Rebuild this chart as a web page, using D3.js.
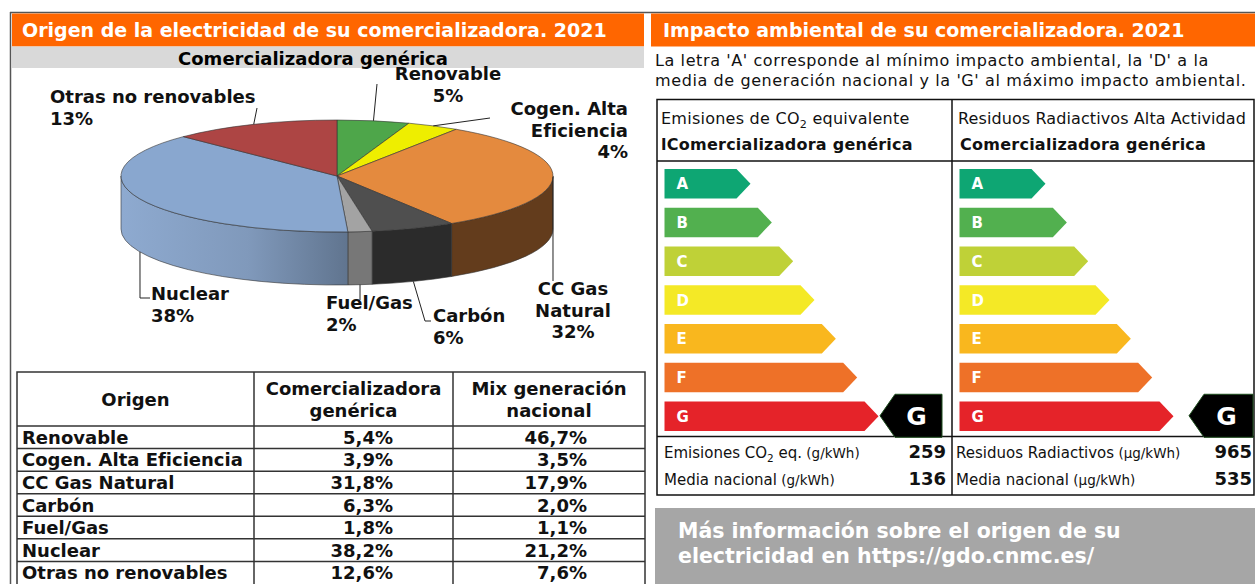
<!DOCTYPE html>
<html lang="es">
<head>
<meta charset="UTF-8">
<title>Origen de la electricidad</title>
<script src="https://d3js.org/d3.v7.min.js"></script>
<style>
  body { margin: 0; background: #fff; }
  svg text { font-family: "DejaVu Sans", Verdana, sans-serif; }
</style>
</head>
<body>
<script>
// ---- datos ----
const origins = ["Renovable", "Cogen. Alta Eficiencia", "CC Gas Natural", "Carbón", "Fuel/Gas", "Nuclear", "Otras no renovables"];
const pieNames = [["Renovable"], ["Cogen. Alta", "Eficiencia"], ["CC Gas", "Natural"], ["Carbón"], ["Fuel/Gas"], ["Nuclear"], ["Otras no renovables"]];
const shareCompany = [5.4, 3.9, 31.8, 6.3, 1.8, 38.2, 12.6];
const shareNational = [46.7, 3.5, 17.9, 2.0, 1.1, 21.2, 7.6];

const ratingLetters = ["A", "B", "C", "D", "E", "F", "G"];
const co2Rating = "G", co2Value = 259, co2National = 136;
const radRating = "G", radValue = 965, radNational = 535;

// ---- estilos ----
const topColors = ["#4ea64a", "#eeee00", "#e48a3e", "#4f4f4f", "#a3a3a3", "#89a7cf", "#ad4544"];
const sideColors = ["#3a7a37", "#b0b000", "#633c1c", "#2b2b2b", "#777777", "url(#nucSide)", "#7c3131"];
const ratingColors = ["#0ea673", "#52b04f", "#bfd137", "#f4e926", "#f9b71e", "#ee7128", "#e52329"];
const orange = "#ff6600";

const W = 1255, H = 584;
const svg = d3.select("body").append("svg").attr("width", W).attr("height", H);

// ---- marcos ----
svg.append("line").attr("x1", 10).attr("x2", W).attr("y1", 12.5).attr("y2", 12.5).attr("stroke", "#555").attr("stroke-width", 1.5);
svg.append("line").attr("x1", 10.5).attr("x2", 10.5).attr("y1", 12).attr("y2", H).attr("stroke", "#555").attr("stroke-width", 1.5);

svg.append("rect").attr("x", 12).attr("y", 13.5).attr("width", 632).attr("height", 33).attr("fill", orange);
svg.append("rect").attr("x", 651).attr("y", 13.5).attr("width", W - 651).attr("height", 33).attr("fill", orange);
svg.append("rect").attr("x", 12).attr("y", 46.5).attr("width", 632).attr("height", 21.5).attr("fill", "#d9d9d9");

svg.append("text").attr("x", 22).attr("y", 37).attr("fill", "#fff").attr("font-weight", "bold").attr("font-size", 19)
  .text("Origen de la electricidad de su comercializadora. 2021");
svg.append("text").attr("x", 663).attr("y", 37).attr("fill", "#fff").attr("font-weight", "bold").attr("font-size", 19)
  .text("Impacto ambiental de su comercializadora. 2021");
svg.append("text").attr("x", 313).attr("y", 65).attr("text-anchor", "middle").attr("font-weight", "bold").attr("font-size", 18)
  .text("Comercializadora genérica");

// ---- tarta 3D ----
const cx = 337, cy = 176, rx = 216, ry = 56, depth = 53;
const pt = (a, dy = 0) => [cx + rx * Math.sin(a), cy - ry * Math.cos(a) + dy];
const arcs = d3.pie().sort(null).value(d => d)(shareCompany);

const defs = svg.append("defs");
const gNuc = defs.append("linearGradient").attr("id", "nucSide").attr("gradientUnits", "userSpaceOnUse")
  .attr("x1", cx - rx).attr("x2", cx + 15).attr("y1", 0).attr("y2", 0);
gNuc.append("stop").attr("offset", 0).attr("stop-color", "#8eaad0");
gNuc.append("stop").attr("offset", 0.55).attr("stop-color", "#8099bb");
gNuc.append("stop").attr("offset", 1).attr("stop-color", "#5f738d");

const pie = svg.append("g");
// lados visibles (mitad delantera)
arcs.forEach((d, i) => {
  const b0 = Math.max(d.startAngle, Math.PI / 2), b1 = Math.min(d.endAngle, 3 * Math.PI / 2);
  if (b1 <= b0) return;
  const p0 = pt(b0), p1 = pt(b1), q1 = pt(b1, depth), q0 = pt(b0, depth);
  pie.append("path")
    .attr("d", `M${p0}A${rx},${ry} 0 0 1 ${p1}L${q1}A${rx},${ry} 0 0 0 ${q0}Z`)
    .attr("fill", sideColors[i]).attr("stroke", "#333").attr("stroke-width", 0.6);
});
// caras superiores
arcs.forEach((d, i) => {
  const p0 = pt(d.startAngle), p1 = pt(d.endAngle);
  const large = d.endAngle - d.startAngle > Math.PI ? 1 : 0;
  pie.append("path")
    .attr("d", `M${cx},${cy}L${p0}A${rx},${ry} 0 ${large} 1 ${p1}Z`)
    .attr("fill", topColors[i]).attr("stroke", "#333").attr("stroke-width", 0.6);
});

// etiquetas de la tarta
const pieLabelPos = [
  { x: 448, y: 80, anchor: "middle", leader: [[377, 84]] },
  { x: 628, y: 115, anchor: "end", leader: [[490, 118]] },
  { x: 573, y: 295, anchor: "middle", leader: [[553, 281]] },
  { x: 433, y: 322, anchor: "start", side: true, leader: [[425, 321], [431, 321]] },
  { x: 326, y: 309, anchor: "start", side: true, leader: [[360, 300]] },
  { x: 151, y: 300, anchor: "start", side: true, at: 245.8, leader: [[140, 298], [150, 298]] },
  { x: 50, y: 103, anchor: "start", leader: [[257, 108]] }
];
const pct = d3.format(".0f");
arcs.forEach((d, i) => {
  const L = pieLabelPos[i];
  const m = L.at != null ? L.at * Math.PI / 180 : (d.startAngle + d.endAngle) / 2;
  const start = pt(m, L.side ? depth : 0);
  svg.append("path").attr("d", d3.line()([start, ...L.leader]))
    .attr("fill", "none").attr("stroke", "#222").attr("stroke-width", 1);
  const t = svg.append("text").attr("text-anchor", L.anchor).attr("font-weight", "bold").attr("font-size", 18).attr("fill", "#111");
  const lines = [...pieNames[i], pct(shareCompany[i]) + "%"];
  lines.forEach((s, k) => t.append("tspan").attr("x", L.x).attr("y", L.y + k * 21.5).text(s));
});

// ---- tabla ----
const colX = [17, 254, 453, 645];
const rowY = d3.scaleBand().domain(origins).range([426, 584]);
const tbl = svg.append("g").attr("font-weight", "bold").attr("font-size", 18).attr("fill", "#111");
tbl.append("rect").attr("x", colX[0]).attr("y", 372).attr("width", colX[3] - colX[0]).attr("height", 212 + 2)
  .attr("fill", "none").attr("stroke", "#333").attr("stroke-width", 1.5);
[colX[1], colX[2]].forEach(x => tbl.append("line").attr("x1", x).attr("x2", x).attr("y1", 372).attr("y2", H).attr("stroke", "#333").attr("stroke-width", 1.5));
origins.forEach(o => tbl.append("line").attr("x1", colX[0]).attr("x2", colX[3]).attr("y1", rowY(o)).attr("y2", rowY(o)).attr("stroke", "#333").attr("stroke-width", 1.5));

const headers = [["Origen"], ["Comercializadora", "genérica"], ["Mix generación", "nacional"]];
headers.forEach((h, j) => {
  const t = tbl.append("text").attr("text-anchor", "middle");
  const y0 = h.length === 1 ? 406 : 395;
  h.forEach((s, k) => t.append("tspan").attr("x", (colX[j] + colX[j + 1]) / 2).attr("y", y0 + k * 22).text(s));
});
const fmt = v => d3.format(".1f")(v).replace(".", ",") + "%";
origins.forEach((o, i) => {
  const y = rowY(o) + rowY.bandwidth() / 2 + 6.5;
  tbl.append("text").attr("x", 22).attr("y", y).text(o);
  tbl.append("text").attr("x", 393).attr("y", y).attr("text-anchor", "end").text(fmt(shareCompany[i]));
  tbl.append("text").attr("x", 587).attr("y", y).attr("text-anchor", "end").text(fmt(shareNational[i]));
});

// ---- panel de impacto ----
const desc = svg.append("text").attr("font-size", 16).attr("letter-spacing", 0.6).attr("fill", "#111");
desc.append("tspan").attr("x", 655).attr("y", 66).text("La letra 'A' corresponde al mínimo impacto ambiental, la 'D' a la");
desc.append("tspan").attr("x", 655).attr("y", 86).text("media de generación nacional y la 'G' al máximo impacto ambiental.");

const boxL = 657, boxR = 1254, boxT = 99.5, boxB = 495, midX = 952;
const frame = svg.append("g").attr("stroke", "#111").attr("stroke-width", 1.5).attr("fill", "none");
frame.append("rect").attr("x", boxL).attr("y", boxT).attr("width", boxR - boxL).attr("height", boxB - boxT);
frame.append("line").attr("x1", midX).attr("x2", midX).attr("y1", boxT).attr("y2", boxB);
frame.append("line").attr("x1", boxL).attr("x2", boxR).attr("y1", 161).attr("y2", 161);
frame.append("line").attr("x1", boxL).attr("x2", boxR).attr("y1", 436.5).attr("y2", 436.5);

function sub(t, base, subTxt, rest) {
  t.append("tspan").text(base);
  t.append("tspan").attr("font-size", "0.7em").attr("dy", 4).text(subTxt);
  t.append("tspan").attr("dy", -4).text(rest);
}

// encabezados
const h1 = svg.append("text").attr("x", 661).attr("y", 124).attr("font-size", 16).attr("letter-spacing", 0.25).attr("fill", "#111");
sub(h1, "Emisiones de CO", "2", " equivalente");
svg.append("text").attr("x", 661).attr("y", 150).attr("font-size", 16).attr("letter-spacing", 0.25).attr("font-weight", "bold").attr("fill", "#111").text("lComercializadora genérica");
svg.append("text").attr("x", 958).attr("y", 124).attr("font-size", 16).attr("letter-spacing", 0.1).attr("fill", "#111").text("Residuos Radiactivos Alta Actividad");
svg.append("text").attr("x", 960).attr("y", 150).attr("font-size", 16).attr("letter-spacing", 0.25).attr("font-weight", "bold").attr("fill", "#111").text("Comercializadora genérica");

// escala energética
const yBand = d3.scaleBand().domain(ratingLetters).range([169, 431]).paddingInner(0.24);
const barW = d3.scaleLinear().domain([0, 6]).range([86, 214]);
const tip = 14;

function drawRating(x0, tipX, rightX, rating) {
  const g = svg.append("g");
  ratingLetters.forEach((l, i) => {
    const y = yBand(l), h = yBand.bandwidth(), w = barW(i);
    g.append("path")
      .attr("d", d3.line()([[x0, y], [x0 + w - tip, y], [x0 + w, y + h / 2], [x0 + w - tip, y + h], [x0, y + h]]) + "Z")
      .attr("fill", ratingColors[i]);
    g.append("text").attr("x", x0 + 12).attr("y", y + h / 2 + 5.5).attr("fill", "#fff")
      .attr("font-weight", "bold").attr("font-size", 15).text(l);
  });
  const yc = yBand(rating) + yBand.bandwidth() / 2 - 0.5, hh = 21.5;
  g.append("path")
    .attr("d", d3.line()([[tipX, yc], [tipX + 15, yc - hh], [rightX, yc - hh], [rightX, yc + hh], [tipX + 15, yc + hh]]) + "Z")
    .attr("fill", "#000").attr("stroke", "#1d4d1d").attr("stroke-width", 1);
  g.append("text").attr("x", (tipX + 15 + rightX) / 2 - 2).attr("y", yc + 9).attr("text-anchor", "middle")
    .attr("fill", "#fff").attr("font-weight", "bold").attr("font-size", 25).text(rating);
}
drawRating(664.5, 880, 942, co2Rating);
drawRating(959.5, 1189, 1253, radRating);

// valores
function valueRow(x, y, label, subTxt, rest, unit, value, rightX) {
  const t = svg.append("text").attr("x", x).attr("y", y).attr("font-size", 15).attr("fill", "#111");
  if (subTxt) sub(t, label, subTxt, rest); else t.append("tspan").text(label);
  t.append("tspan").attr("font-size", 13.5).attr("dy", 0).text(" " + unit);
  svg.append("text").attr("x", rightX).attr("y", y).attr("text-anchor", "end").attr("font-size", 18)
    .attr("font-weight", "bold").attr("fill", "#111").text(value);
}
valueRow(664, 458, "Emisiones CO", "2", " eq.", "(g/kWh)", co2Value, 946);
valueRow(664, 485, "Media nacional", null, null, "(g/kWh)", co2National, 946);
valueRow(956, 458, "Residuos Radiactivos", null, null, "(µg/kWh)", radValue, 1252);
valueRow(956, 485, "Media nacional", null, null, "(µg/kWh)", radNational, 1252);

// caja inferior
svg.append("rect").attr("x", 655).attr("y", 508).attr("width", W - 655).attr("height", H - 508).attr("fill", "#a6a6a6");
const info = svg.append("text").attr("font-size", 20.5).attr("font-weight", "bold").attr("fill", "#fff");
info.append("tspan").attr("x", 678).attr("y", 538).text("Más información sobre el origen de su");
info.append("tspan").attr("x", 678).attr("y", 563).text("electricidad en https://gdo.cnmc.es/");
</script>
</body>
</html>
